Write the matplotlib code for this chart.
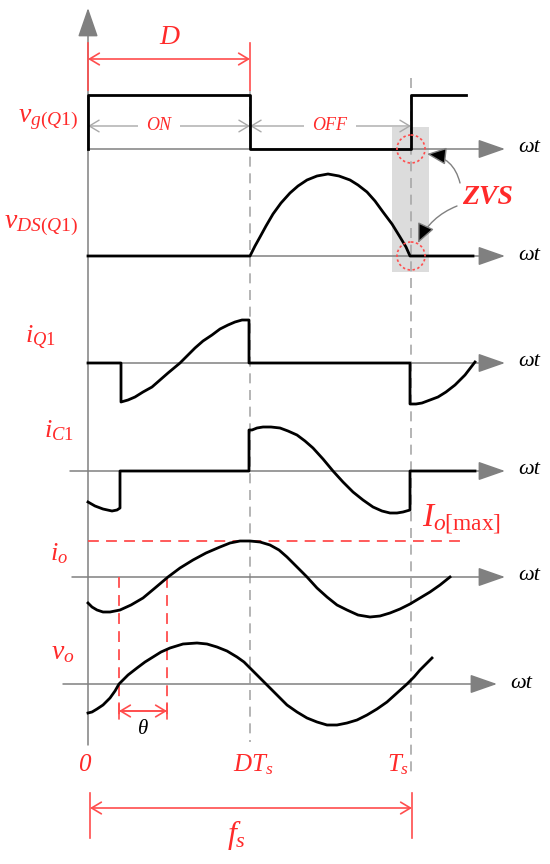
#!/usr/bin/env python3

import matplotlib
matplotlib.use("Agg")
import matplotlib.pyplot as plt
from matplotlib.patches import FancyArrowPatch, Circle, Rectangle

# ----------------------------
# Fonts
# ----------------------------
plt.rcParams["font.family"] = ["Liberation Serif", "DejaVu Serif"]
plt.rcParams["mathtext.fontset"] = "custom"
plt.rcParams["mathtext.it"] = "Liberation Serif:italic"
plt.rcParams["mathtext.rm"] = "Liberation Serif"
plt.rcParams["mathtext.bf"] = "Liberation Serif:bold"

RED = "#ff2a2a"
RED_LINE = "#ff4d4d"
GRAY = "#808080"
LIGHT = "#a8a8a8"

# ----------------------------
# Layout (canvas pixels, y down)
# ----------------------------
X_ZERO, X_DTS, X_TS = 88, 250, 411

AXIS_Y = [149, 256, 363, 471, 577, 684]
AXIS_X0 = [88, 88, 88, 70, 72, 63]
AXIS_X1 = [505, 505, 505, 505, 505, 497]
AXIS_LABELS = [r"$v_{g(Q1)}$", r"$v_{DS(Q1)}$", r"$i_{Q1}$", r"$i_{C1}$", r"$i_o$", r"$v_o$"]
LABEL_RIGHT = [78, 78, 56, 74, 68, 74]
LABEL_BASE = [122, 228, 342, 437, 560, 659]
LABEL_SIZE = [20, 20, 19, 19, 19, 20]

# ----------------------------
# Waveforms
# ----------------------------
VG_X = [88, 88, 250, 250, 411, 411, 466]
VG_Y = [149, 95, 95, 149, 149, 95, 95]

VDS_X = [88, 250, 255, 260, 266, 273, 281, 290, 298, 307, 317, 328, 339, 350, 358, 367,
         375, 383, 392, 400, 406, 410, 473]
VDS_Y = [256, 256, 246, 237, 226, 214, 203, 193, 186, 180, 176, 174, 176, 180, 185, 192,
         201, 212, 224, 237, 247, 256, 256]

IQ1_X = [88, 121, 121, 128, 135, 143, 152, 160, 168, 174, 180, 187, 195, 203, 212, 220,
         228, 235, 242, 249, 249, 410, 410, 416, 422, 430, 438, 446, 455, 465, 475]
IQ1_Y = [363, 363, 402, 400, 397, 392, 387, 380, 373, 368, 363, 356, 348, 341, 335, 329,
         325, 322, 320, 320, 363, 363, 404, 404, 403, 400, 397, 392, 385, 375, 362]

IC1_X = [88, 95, 103, 112, 117, 120, 120, 249, 249, 252, 257, 263, 271, 280, 288, 297,
         305, 313, 323, 333, 343, 353, 363, 373, 382, 390, 397, 403, 410, 410, 475]
IC1_Y = [502, 506, 509, 511, 510, 508, 471, 471, 430, 430, 428, 427, 427, 428, 431, 435,
         441, 448, 459, 471, 482, 492, 500, 507, 511, 513, 513, 512, 510, 471, 471]

IO_X = [88, 92, 97, 103, 110, 115, 120, 131, 143, 155, 168, 180, 193, 206, 220, 230,
        240, 250, 260, 270, 279, 287, 297, 307, 317, 327, 337, 347, 358, 370, 380, 390,
        400, 410, 420, 430, 440, 450]
IO_Y = [603, 607, 610, 612, 612, 611, 610, 605, 598, 588, 577, 568, 560, 553, 547, 543,
        541, 541, 542, 545, 550, 557, 567, 577, 588, 597, 605, 610, 615, 617, 616, 613,
        609, 604, 598, 592, 585, 577]

VO_X = [88, 92, 97, 103, 110, 115, 119, 128, 137, 145, 153, 161, 170, 183, 197, 207,
        217, 227, 237, 244, 250, 258, 267, 277, 287, 297, 307, 317, 327, 337, 347, 357,
        367, 377, 387, 397, 407, 414, 420, 426, 432]
VO_Y = [713, 712, 709, 705, 698, 691, 684, 675, 668, 662, 657, 652, 648, 644, 643, 644,
        647, 651, 657, 662, 668, 676, 685, 695, 705, 712, 718, 722, 725, 725, 723, 720,
        715, 709, 702, 693, 684, 677, 670, 664, 658]

IO_MAX_Y = 541
THETA_X = [119, 167]


def arrow(ax, start, end, color, style, lw=1.0, ms=14, fc=None, rad=0.0, z=3):
    p = FancyArrowPatch(start, end, arrowstyle=style, mutation_scale=ms,
                        color=color, lw=lw, shrinkA=0, shrinkB=0,
                        connectionstyle="arc3,rad=%s" % rad, zorder=z)
    if fc is not None:
        p.set_facecolor(fc)
    ax.add_patch(p)


fig = plt.figure(figsize=(5.5, 8.64), dpi=100)
ax = fig.add_axes([0, 0, 1, 1])
ax.set_xlim(0, 550)
ax.set_ylim(864, 0)
ax.axis("off")

# shaded ZVS window
ax.add_patch(Rectangle((392, 127), 37, 145, color="#dcdcdc", lw=0, zorder=0))

# vertical axis with arrow
arrow(ax, (X_ZERO, 745), (X_ZERO, 8), GRAY, "-|>,head_length=1.3,head_width=0.45", lw=1.1, ms=14)

# time markers
ax.plot([X_DTS, X_DTS], [90, 742], color=LIGHT, lw=1.2, ls=(0, (6, 4)), zorder=1)
ax.plot([X_TS, X_TS], [78, 772], color=LIGHT, lw=1.2, ls=(0, (6, 4)), zorder=1)

# horizontal axes
for y, x0, x1 in zip(AXIS_Y, AXIS_X0, AXIS_X1):
    arrow(ax, (x0, y), (x1, y), GRAY, "-|>,head_length=1.2,head_width=0.42", lw=1.1, ms=14, z=2)
    ax.text(x1 + 24, y - 1, "ωt", fontsize=16, fontstyle="italic", ha="center", va="center")

for lab, xr, yb, fs in zip(AXIS_LABELS, LABEL_RIGHT, LABEL_BASE, LABEL_SIZE):
    ax.text(xr, yb, lab, color=RED, fontsize=fs, ha="right", va="baseline")

# waveforms
for xs, ys in [(VG_X, VG_Y), (VDS_X, VDS_Y), (IQ1_X, IQ1_Y), (IC1_X, IC1_Y), (IO_X, IO_Y), (VO_X, VO_Y)]:
    ax.plot(xs, ys, color="black", lw=2.0, solid_joinstyle="round", zorder=4)

# D dimension
ax.plot([X_ZERO, X_ZERO], [43, 90], color=RED_LINE, lw=1.2, zorder=5)
ax.plot([X_DTS, X_DTS], [43, 90], color=RED_LINE, lw=1.2, zorder=5)
arrow(ax, (X_ZERO, 59), (X_DTS, 59), RED_LINE, "<->,head_length=0.5,head_width=0.3", lw=1.2, ms=14)
ax.text((X_ZERO + X_DTS) / 2, 38, "D", color=RED, fontsize=20, fontstyle="italic", ha="center", va="center")

# ON / OFF
arrow(ax, (X_ZERO, 126), (X_DTS, 126), LIGHT, "<->,head_length=0.5,head_width=0.3", lw=1.0, ms=14)
arrow(ax, (X_DTS, 126), (X_TS, 126), LIGHT, "<->,head_length=0.5,head_width=0.3", lw=1.0, ms=14)
ax.text(159, 126, "ON", color=RED, fontsize=13, fontstyle="italic", ha="center", va="center",
        bbox=dict(fc="white", ec="none", pad=6), zorder=5)
ax.text(330, 126, "OFF", color=RED, fontsize=13, fontstyle="italic", ha="center", va="center",
        bbox=dict(fc="white", ec="none", pad=6), zorder=5)

# ZVS
for cy in [AXIS_Y[0], AXIS_Y[1]]:
    ax.add_patch(Circle((X_TS, cy), 14, fill=False, ec=RED_LINE, lw=1.2, ls=(0, (1.5, 1.5)), zorder=6))
ax.text(487, 197, "ZVS", color=RED, fontsize=20, fontweight="bold", fontstyle="italic", ha="center", va="center")
arrow(ax, (460, 183), (427, 154), GRAY, "-|>,head_length=1.0,head_width=0.45", lw=1.0, ms=12, fc="black", rad=0.35, z=6)
arrow(ax, (457, 206), (418, 243), GRAY, "-|>,head_length=1.0,head_width=0.45", lw=1.0, ms=12, fc="black", rad=0.2, z=6)

# Io max
ax.plot([X_ZERO, 462], [IO_MAX_Y, IO_MAX_Y], color=RED_LINE, lw=1.3, ls=(0, (6, 4)), zorder=3)
ax.text(422, 527, r"$I_{o[\max]}$", color=RED, fontsize=24, ha="left", va="baseline")

# theta
for tx in THETA_X:
    ax.plot([tx, tx], [AXIS_Y[4], 716], color=RED_LINE, lw=1.3, ls=(0, (6, 4)), zorder=3)
arrow(ax, (THETA_X[0], 711), (THETA_X[1], 711), RED_LINE, "|-|,widthA=0.4,widthB=0.4", lw=1.2, ms=14)
arrow(ax, (THETA_X[0], 711), (THETA_X[1], 711), RED_LINE, "<->,head_length=0.5,head_width=0.3", lw=1.2, ms=14)
ax.text((THETA_X[0] + THETA_X[1]) / 2, 729, "θ", fontsize=15, fontstyle="italic", ha="center", va="center")

# time labels
ax.text(84, 765, "0", color=RED, fontsize=18, fontstyle="italic", ha="center", va="center")
ax.text(253, 771, r"$DT_s$", color=RED, fontsize=18, ha="center", va="baseline")
ax.text(398, 771, r"$T_s$", color=RED, fontsize=18, ha="center", va="baseline")

# fs dimension
ax.plot([90, 90], [793, 838], color=RED_LINE, lw=1.2)
ax.plot([412, 412], [793, 838], color=RED_LINE, lw=1.2)
arrow(ax, (90, 808), (412, 808), RED_LINE, "<->,head_length=0.5,head_width=0.3", lw=1.2, ms=14)
ax.text(236, 843, r"$f_s$", color=RED, fontsize=23, ha="center", va="baseline")

plt.savefig("out.png", dpi=100)
plt.close()
